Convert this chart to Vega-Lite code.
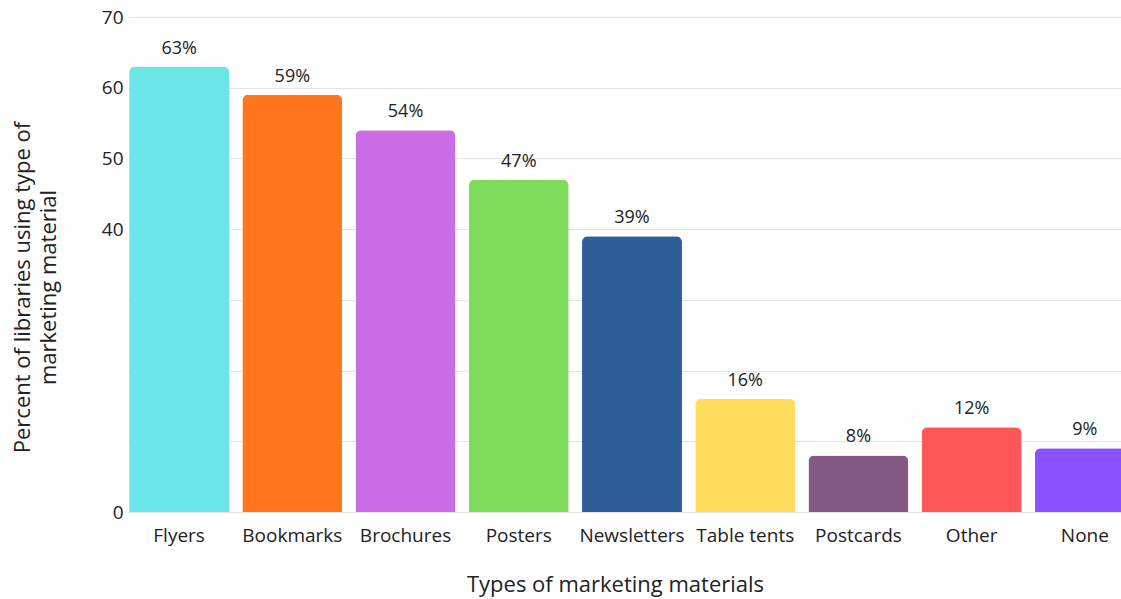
{
  "$schema": "https://vega.github.io/schema/vega-lite/v6.json",
  "autosize": {"type": "none"},
  "padding": {"left": 128, "top": 17, "right": 0, "bottom": 87},
  "width": 1008,
  "height": 495,
  "background": "white",
  "config": {
    "font": "Open Sans",
    "view": {"stroke": null}
  },
  "data": {
    "values": [
      {"material": "Flyers", "percent": 63, "color": "#6ce5e8"},
      {"material": "Bookmarks", "percent": 59, "color": "#ff761f"},
      {"material": "Brochures", "percent": 54, "color": "#c96ce6"},
      {"material": "Posters", "percent": 47, "color": "#7fdb5a"},
      {"material": "Newsletters", "percent": 39, "color": "#2e5f99"},
      {"material": "Table tents", "percent": 16, "color": "#ffdc5c"},
      {"material": "Postcards", "percent": 8, "color": "#835a83"},
      {"material": "Other", "percent": 12, "color": "#ff5757"},
      {"material": "None", "percent": 9, "color": "#8c52ff"}
    ]
  },
  "encoding": {
    "x": {
      "field": "material",
      "type": "nominal",
      "sort": null,
      "scale": {"paddingInner": 0.117, "paddingOuter": 0.01},
      "axis": {
        "title": "Types of marketing materials",
        "titleFontSize": 22,
        "titleFontWeight": "normal",
        "titleColor": "#222",
        "titlePadding": 29,
        "titleX": 487,
        "labelAngle": 0,
        "labelFontSize": 19,
        "labelColor": "#222",
        "labelPadding": 14,
        "ticks": false,
        "domain": false
      }
    },
    "y": {
      "field": "percent",
      "type": "quantitative",
      "scale": {"domain": [0, 70], "nice": false},
      "axis": {
        "values": [0, 10, 20, 30, 40, 50, 60, 70],
        "labelExpr": "datum.value == 0 || datum.value >= 40 ? datum.label : ''",
        "title": ["Percent of libraries using type of", "marketing material"],
        "titleFontSize": 22,
        "titleFontWeight": "normal",
        "titleColor": "#222",
        "titleY": 270,
        "titlePadding": 41,
        "titleLineHeight": 26,
        "labelFontSize": 19,
        "labelColor": "#222",
        "labelPadding": 5,
        "ticks": false,
        "domain": false,
        "grid": true,
        "gridColor": "#e3e3e3",
        "gridWidth": 1
      }
    }
  },
  "layer": [
    {
      "mark": {"type": "bar", "cornerRadiusTopLeft": 6, "cornerRadiusTopRight": 6},
      "encoding": {
        "color": {"field": "color", "type": "nominal", "scale": null, "legend": null}
      }
    },
    {
      "mark": {"type": "text", "baseline": "bottom", "dy": -9, "fontSize": 18, "color": "#222"},
      "encoding": {
        "text": {"field": "label", "type": "nominal"},
        "detail": {"field": "material"}
      },
      "transform": [{"calculate": "datum.percent + '%'", "as": "label"}]
    }
  ]
}
